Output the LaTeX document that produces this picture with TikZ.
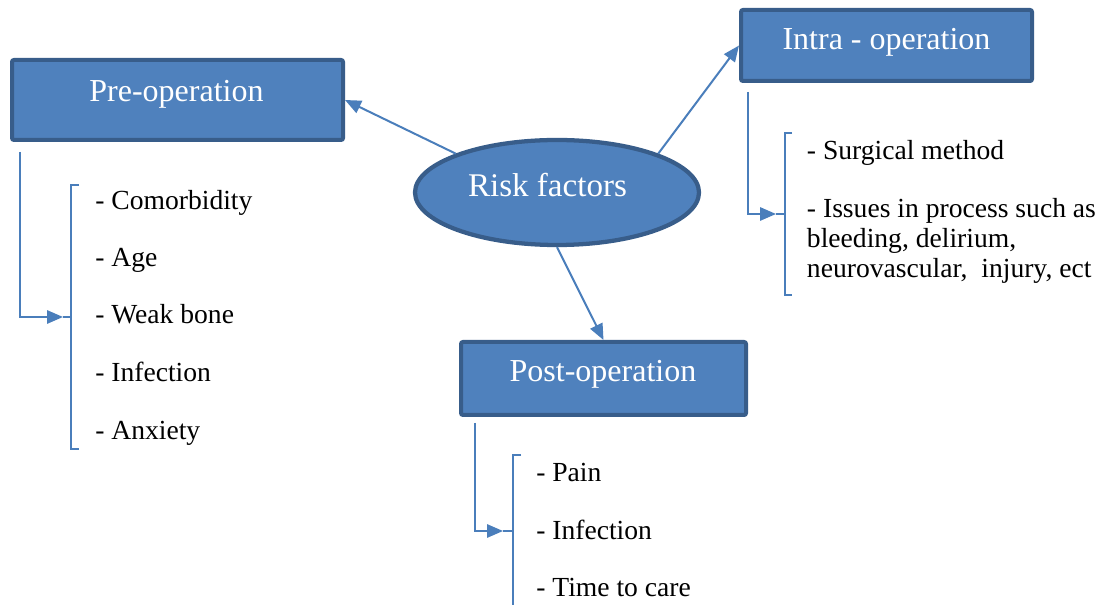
\documentclass[tikz,border=0pt]{standalone}
\usepackage{fontspec}
\setmainfont{Liberation Serif}
\usetikzlibrary{arrows.meta,shapes.geometric}
\definecolor{boxfill}{HTML}{4F81BD}
\definecolor{boxline}{HTML}{385D8A}
\definecolor{wire}{HTML}{4A7EBB}

\begin{document}
\begin{tikzpicture}[x=0.75pt,y=-0.75pt,
  stagebox/.style={draw=boxline, line width=3pt, fill=boxfill,
    rounded corners=1.5pt, inner sep=0pt},
  stagetext/.style={text=white, font=\fontsize{24}{28}\selectfont,
    inner sep=0pt, anchor=base},
  wireline/.style={draw=wire, line width=1.5pt},
  tip/.style={wireline, -{Triangle[length=12pt,width=10pt]}},
  item/.style={font=\fontsize{20.7}{21.9}\selectfont, inner sep=0pt,
    anchor=base west, align=left},
]
\fill[white] (0,0) rectangle (1110,605);
\useasboundingbox (0,0) rectangle (1110,605);

% stage boxes
\node[stagebox, minimum width=248.25pt, minimum height=60pt] (pre) at (177.5,100) {};
\node[stagetext] (preT) at (176.5,101.7) {Pre-operation};

\node[stagebox, minimum width=218.25pt, minimum height=53.25pt] (intra) at (886.5,45.5) {};
\node[stagetext] (intraT) at (886.5,50) {Intra - operation};

\node[stagebox, minimum width=213.75pt, minimum height=54.75pt] (post) at (603.5,378.5) {};
\node[stagetext] (postT) at (603,381.7) {Post-operation};

% central ellipse
\node[draw=boxline, line width=3.2pt, fill=boxfill, ellipse, inner sep=0pt,
      minimum width=213pt, minimum height=78.75pt] (risk) at (557,192.5) {};
\node[stagetext, font=\fontsize{24.8}{28}\selectfont] (riskT) at (547.5,196.7) {Risk factors};

% arrows out of the ellipse
\draw[tip] (risk.159) -- (pre.east);
\draw[tip] (risk.21) -- (intra.west);
\draw[tip] (risk.south) -- (post.north);

% brackets with a nub at mid height
\draw[wireline] (79,185) -- (71,185) -- (71,449) -- (79,449);
\coordinate (preNub) at (63,317);
\draw[wireline] (71,317) -- (preNub);

\draw[wireline] (792,133) -- (785,133) -- (785,295) -- (792,295);
\coordinate (intraNub) at (776,214);
\draw[wireline] (785,214) -- (intraNub);

\draw[wireline] (521,455) -- (513,455) -- (513,607) -- (521,607);
\coordinate (postNub) at (503,531);
\draw[wireline] (513,531) -- (postNub);

% elbow connectors from each box to its bracket
\coordinate (preDrop) at (20,152);
\draw[tip] (preDrop) |- (preNub);
\coordinate (intraDrop) at (748,92);
\draw[tip] (intraDrop) |- (intraNub);
\coordinate (postDrop) at (475,423);
\draw[tip] (postDrop) |- (postNub);

% pre-operation items
\node[item] (p1) at (95,209.3) {- Comorbidity};
\node[item] (p2) at (95,266.7) {- Age};
\node[item] (p3) at (95,324) {- Weak bone};
\node[item] (p4) at (95,381.7) {- Infection};
\node[item] (p5) at (95,439.3) {- Anxiety};

% intra-operation items
\node[item] (i1) at (806.7,159.5) {- Surgical method};
\node[item] (i2) at (806.7,218) {- Issues in process such as};
\node[item] (i3) at (806.7,248) {bleeding, delirium,};
\node[item] (i4) at (806.7,278) {neurovascular,\ \ injury, ect};

% post-operation items
\node[item] (q1) at (536,481.7) {- Pain};
\node[item] (q2) at (536,539.3) {- Infection};
\node[item] (q3) at (536,596.7) {- Time to care};
\end{tikzpicture}
\end{document}
